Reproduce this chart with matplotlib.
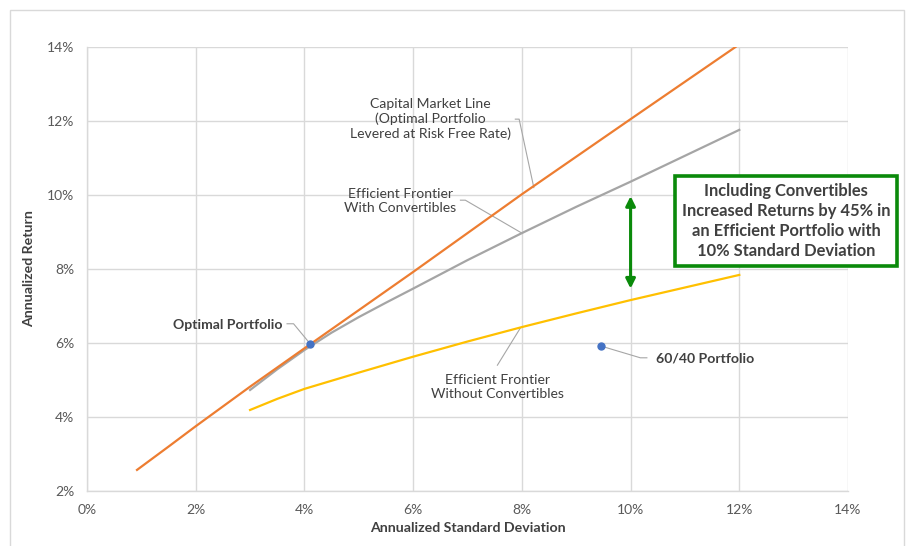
import matplotlib
matplotlib.use("Agg")
import matplotlib.pyplot as plt
from matplotlib.patches import Rectangle

plt.rcParams['font.family'] = ['Lato', 'DejaVu Sans']

# Data (percent)
cml_x = [0.92, 1.5, 2.0, 3.0, 4.11, 6.0, 8.0, 10.0, 11.93]
cml_y = [2.57, 3.20, 3.75, 4.82, 5.97, 7.92, 10.02, 12.05, 14.0]

ef_conv_x = [3.0, 3.5, 4.0, 4.5, 5.0, 5.5, 6.0, 7.0, 8.0, 9.0, 10.0, 11.0, 12.0]
ef_conv_y = [4.73, 5.29, 5.81, 6.28, 6.70, 7.09, 7.47, 8.24, 8.97, 9.68, 10.36, 11.06, 11.76]

ef_noconv_x = [3.0, 3.5, 4.0, 5.0, 6.0, 7.0, 8.0, 9.0, 10.0, 11.0, 12.0]
ef_noconv_y = [4.19, 4.49, 4.76, 5.20, 5.63, 6.04, 6.43, 6.80, 7.16, 7.50, 7.84]

optimal_pt = (4.11, 5.97)
p6040_pt = (9.45, 5.92)

xticks = [0, 2, 4, 6, 8, 10, 12, 14]
yticks = [2, 4, 6, 8, 10, 12, 14]

fig = plt.figure(figsize=(9.09, 5.46), dpi=100)
ax = fig.add_axes([87/909, 1-491/546, (848-87)/909, (491-47)/546])

# outer chart border
fig.patches.append(Rectangle((10/909, -0.05), (904-10)/909, 1-10/546+0.05,
                             transform=fig.transFigure, fill=False,
                             edgecolor='#d9d9d9', linewidth=1.0))

ax.set_xlim(0, 14)
ax.set_ylim(2, 14)
ax.set_xticks(xticks)
ax.set_yticks(yticks)
ax.set_xticklabels([f"{t}%" for t in xticks])
ax.set_yticklabels([f"{t}%" for t in yticks])
ax.grid(True, color='#d9d9d9', linewidth=1.0)
ax.set_axisbelow(True)
for s in ['top', 'right']:
    ax.spines[s].set_visible(False)
for s in ['left', 'bottom']:
    ax.spines[s].set_color('#d9d9d9')
    ax.spines[s].set_linewidth(1.0)
ax.tick_params(length=0, labelsize=10, colors='#595959', pad=9)

ax.set_xlabel('Annualized Standard Deviation', fontsize=10.2, fontweight='bold',
              color='#404040', labelpad=5)
ax.set_ylabel('Annualized Return', fontsize=10.2, fontweight='bold',
              color='#404040', labelpad=9)

ax.plot(ef_noconv_x, ef_noconv_y, color='#FFC000', linewidth=1.6, zorder=3)
ax.plot(ef_conv_x, ef_conv_y, color='#A5A5A5', linewidth=1.6, zorder=3)
ax.plot(cml_x, cml_y, color='#ED7D31', linewidth=1.6, zorder=4)

ax.plot([optimal_pt[0]], [optimal_pt[1]], 'o', color='#4472C4', markersize=5, zorder=5)
ax.plot([p6040_pt[0]], [p6040_pt[1]], 'o', color='#4472C4', markersize=5, zorder=5)

lead = dict(color='#a6a6a6', linewidth=0.8, zorder=2)
txtc = '#404040'
fs = 10.1

# Capital Market Line label
ax.text(6.32, 12.05, 'Capital Market Line\n(Optimal Portfolio\nLevered at Risk Free Rate)',
        ha='center', va='center', fontsize=fs, color=txtc, linespacing=1.2)
ax.plot([7.88, 7.95, 8.22], [12.05, 12.05, 10.2], **lead)

# Efficient Frontier With Convertibles
ax.text(5.76, 9.84, 'Efficient Frontier\nWith Convertibles',
        ha='center', va='center', fontsize=fs, color=txtc, linespacing=1.2)
ax.plot([6.87, 6.96, 8.0], [9.86, 9.86, 8.97], **lead)

# Optimal Portfolio
ax.text(3.6, 6.49, 'Optimal Portfolio', ha='right', va='center', fontsize=fs,
        fontweight='bold', color=txtc)
ax.plot([3.68, 3.80, optimal_pt[0]], [6.52, 6.52, optimal_pt[1]], **lead)

# Efficient Frontier Without Convertibles
ax.text(7.55, 4.80, 'Efficient Frontier\nWithout Convertibles',
        ha='center', va='center', fontsize=fs, color=txtc, linespacing=1.2)
ax.plot([7.55, 7.97], [5.40, 6.40], **lead)

# 60/40 Portfolio
ax.text(10.46, 5.57, '60/40 Portfolio', ha='left', va='center', fontsize=fs,
        fontweight='bold', color=txtc)
ax.plot([p6040_pt[0], 10.18, 10.30], [p6040_pt[1], 5.60, 5.60], **lead)

# Green double arrow
ax.annotate('', xy=(10.0, 9.97), xytext=(10.0, 7.47),
            arrowprops=dict(arrowstyle='<|-|>', color='#0a8a0a', linewidth=2.2,
                            mutation_scale=14, shrinkA=0, shrinkB=0))

# Green text box
ax.text(12.86, 9.3, 'Including Convertibles\nIncreased Returns by 45% in\nan Efficient Portfolio with\n10% Standard Deviation',
        ha='center', va='center', fontsize=11.9, fontweight='bold', color=txtc,
        linespacing=1.32, clip_on=False, zorder=6,
        bbox=dict(boxstyle='square,pad=0.42', facecolor='white',
                  edgecolor='#0a8a0a', linewidth=2.6))

fig.savefig('out.png', dpi=100)
